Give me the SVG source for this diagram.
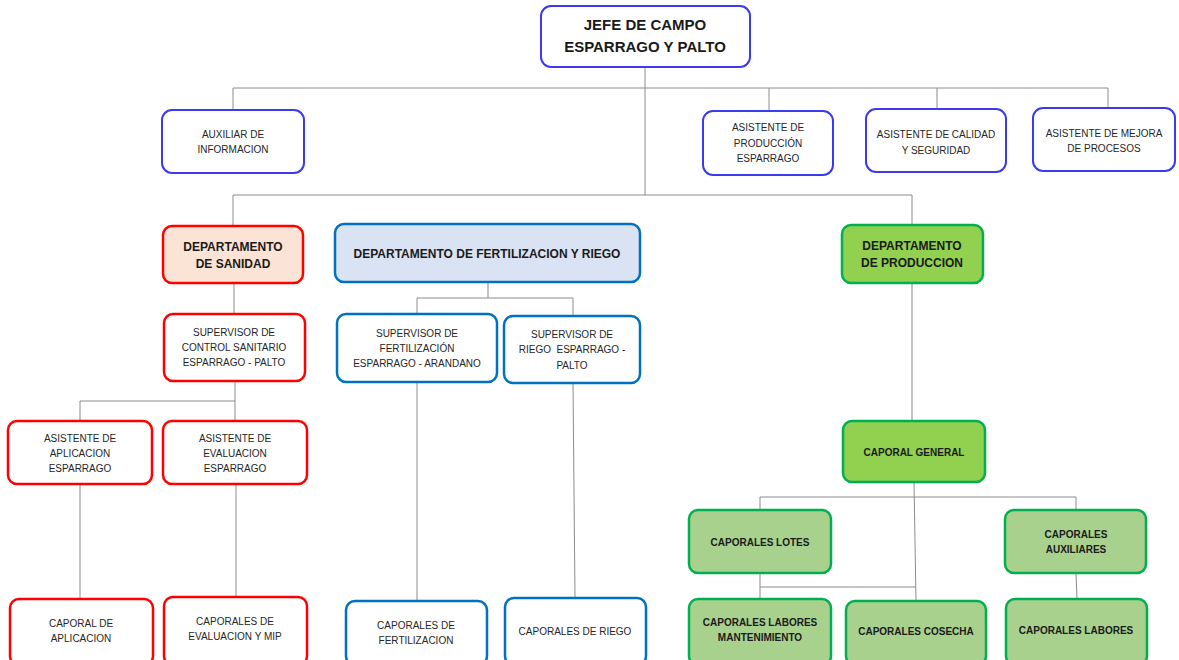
<svg xmlns="http://www.w3.org/2000/svg" width="1179" height="660" viewBox="0 0 1179 660">
<style>
text{font-family:"Liberation Sans",Arial,sans-serif;text-anchor:middle;fill:#262626}
.n{font-size:10px}
.b{font-size:12px;font-weight:bold;fill:#1a1a1a}
.g{font-size:10px;font-weight:bold;fill:#1a1a1a}
.j{font-size:15px;font-weight:bold;fill:#1a1a1a}
.blue{fill:#fff;stroke:#3a3af0;stroke-width:2}
.red{fill:#fff;stroke:#ff0000;stroke-width:2.5}
.redf{fill:#fbe3d5;stroke:#ff0000;stroke-width:2.5}
.dblue{fill:#fff;stroke:#0070c0;stroke-width:2.5}
.dbluef{fill:#dae3f3;stroke:#0070c0;stroke-width:2.5}
.gdark{fill:#92d050;stroke:#00b050;stroke-width:2.5}
.glight{fill:#a9d18e;stroke:#00b050;stroke-width:2.5}
.c{fill:none;stroke:#8c8c8c;stroke-width:1}
</style>
<rect width="1179" height="660" fill="#fff"/>
<g id="connectors">
<path class="c" d="M645 67V195M233 88H1108M233 88V110M769 88V111M937 88V109M1108 88V108"/>
<path class="c" d="M233 195H912M233 195V226M912 195V225"/>
<path class="c" d="M234 283V314M488 282V298M417 298H573M417 298V314M573 298V316"/>
<path class="c" d="M235 381V401M80 401H235M80 401V421M235 401V421"/>
<path class="c" d="M80 484V599M236 484V597M417 382V601M573 383L575 598"/>
<path class="c" d="M912 283V421M914 482L916 601M760 497H1076M760 497V510M1076 497V510"/>
<path class="c" d="M760 573V599M760 587H916M1076 573L1077 599"/>
</g>
<g id="jefe"><rect class="blue" x="541" y="6" width="209" height="61" rx="10"/><text class="j" x="645" y="30">JEFE DE CAMPO</text><text class="j" x="645" y="52">ESPARRAGO Y PALTO</text></g>
<g id="auxiliar"><rect class="blue" x="162" y="110" width="142" height="63" rx="10"/><text class="n" x="233" y="137.5">AUXILIAR DE</text><text class="n" x="233" y="152.5">INFORMACION</text></g>
<g id="asist-prod"><rect class="blue" x="703" y="111" width="130" height="64" rx="10"/><text class="n" x="768" y="130.5">ASISTENTE DE</text><text class="n" x="768" y="146.5">PRODUCCIÓN</text><text class="n" x="768" y="161.5">ESPARRAGO</text></g>
<g id="asist-calidad"><rect class="blue" x="866" y="109" width="140" height="63" rx="10"/><text class="n" x="936" y="137.5">ASISTENTE DE CALIDAD</text><text class="n" x="936" y="153.5">Y SEGURIDAD</text></g>
<g id="asist-mejora"><rect class="blue" x="1033" y="108" width="142" height="63" rx="10"/><text class="n" x="1104" y="136.5">ASISTENTE DE MEJORA</text><text class="n" x="1104" y="151.5">DE PROCESOS</text></g>
<g id="dep-sanidad"><rect class="redf" x="163" y="226" width="140" height="57" rx="9"/><text class="b" x="233" y="251">DEPARTAMENTO</text><text class="b" x="233" y="268">DE SANIDAD</text></g>
<g id="dep-fert"><rect class="dbluef" x="335" y="224" width="305" height="58" rx="9"/><text class="b" x="487" y="258">DEPARTAMENTO DE FERTILIZACION Y RIEGO</text></g>
<g id="dep-prod"><rect class="gdark" x="842" y="225" width="141" height="58" rx="9"/><text class="b" x="912" y="250">DEPARTAMENTO</text><text class="b" x="912" y="267">DE PRODUCCION</text></g>
<g id="sup-sanitario"><rect class="red" x="164" y="314" width="141" height="67" rx="9"/><text class="n" x="234" y="335.5">SUPERVISOR DE</text><text class="n" x="234" y="350.5">CONTROL SANITARIO</text><text class="n" x="234" y="365.5">ESPARRAGO - PALTO</text></g>
<g id="sup-fert"><rect class="dblue" x="337" y="314" width="160" height="68" rx="9"/><text class="n" x="417" y="336.5">SUPERVISOR DE</text><text class="n" x="417" y="351.5">FERTILIZACIÓN</text><text class="n" x="417" y="366.5">ESPARRAGO - ARANDANO</text></g>
<g id="sup-riego"><rect class="dblue" x="504" y="316" width="136" height="67" rx="9"/><text class="n" x="572" y="337.5">SUPERVISOR DE</text><text class="n" x="572" y="352.5" xml:space="preserve">RIEGO  ESPARRAGO -</text><text class="n" x="572" y="368.5">PALTO</text></g>
<g id="asist-aplicacion"><rect class="red" x="8" y="421" width="144" height="63" rx="9"/><text class="n" x="80" y="441.5">ASISTENTE DE</text><text class="n" x="80" y="456.5">APLICACION</text><text class="n" x="80" y="471.5">ESPARRAGO</text></g>
<g id="asist-evaluacion"><rect class="red" x="163" y="421" width="144" height="63" rx="9"/><text class="n" x="235" y="441.5">ASISTENTE DE</text><text class="n" x="235" y="456.5">EVALUACION</text><text class="n" x="235" y="471.5">ESPARRAGO</text></g>
<g id="caporal-aplicacion"><rect class="red" x="10" y="599" width="143" height="66" rx="9"/><text class="n" x="81" y="626.5">CAPORAL DE</text><text class="n" x="81" y="641.5">APLICACION</text></g>
<g id="caporales-evaluacion"><rect class="red" x="164" y="597" width="143" height="68" rx="9"/><text class="n" x="235" y="624.5">CAPORALES DE</text><text class="n" x="235" y="639.5">EVALUACION Y MIP</text></g>
<g id="caporales-fert"><rect class="dblue" x="346" y="601" width="141" height="64" rx="9"/><text class="n" x="416" y="628.5">CAPORALES DE</text><text class="n" x="416" y="643.5">FERTILIZACION</text></g>
<g id="caporales-riego"><rect class="dblue" x="505" y="598" width="141" height="67" rx="9"/><text class="n" x="575" y="634.5">CAPORALES DE RIEGO</text></g>
<g id="caporal-general"><rect class="gdark" x="843" y="421" width="142" height="61" rx="9"/><text class="g" x="914" y="455.5">CAPORAL GENERAL</text></g>
<g id="caporales-lotes"><rect class="glight" x="689" y="510" width="142" height="63" rx="9"/><text class="g" x="760" y="545.5">CAPORALES LOTES</text></g>
<g id="caporales-auxiliares"><rect class="glight" x="1005" y="510" width="141" height="63" rx="9"/><text class="g" x="1076" y="537.5">CAPORALES</text><text class="g" x="1076" y="552.5">AUXILIARES</text></g>
<g id="caporales-mantenimiento"><rect class="glight" x="689" y="599" width="142" height="66" rx="9"/><text class="g" x="760" y="625.5">CAPORALES LABORES</text><text class="g" x="760" y="640.5">MANTENIMIENTO</text></g>
<g id="caporales-cosecha"><rect class="glight" x="846" y="601" width="140" height="64" rx="9"/><text class="g" x="916" y="634.5">CAPORALES COSECHA</text></g>
<g id="caporales-labores"><rect class="glight" x="1006" y="599" width="141" height="66" rx="9"/><text class="g" x="1076" y="633.5">CAPORALES LABORES</text></g>
</svg>
